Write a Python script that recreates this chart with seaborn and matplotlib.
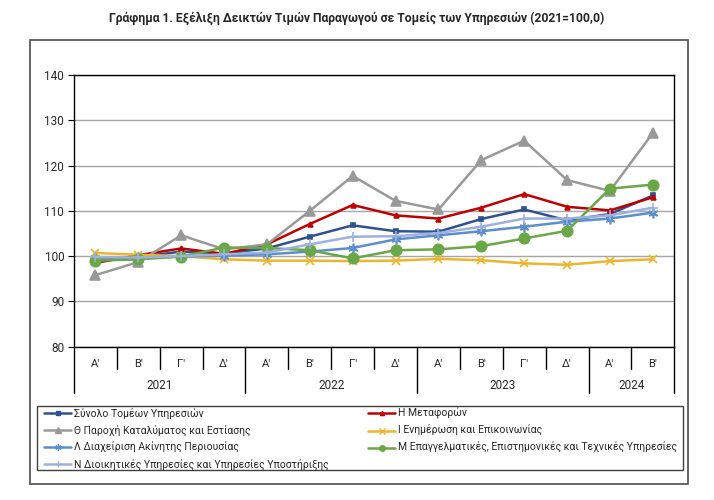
import matplotlib
matplotlib.use("Agg")
import matplotlib.pyplot as plt
import seaborn as sns
import pandas as pd
from matplotlib.patches import Rectangle
from matplotlib.lines import Line2D

# κατηγορίες άξονα x
quarters = ["Α'", "Β'", "Γ'", "Δ'"] * 3 + ["Α'", "Β'"]
years = ["2021", "2022", "2023", "2024"]
year_counts = [4, 4, 4, 2]

# δείκτες (2021=100,0)
synolo = [99.0, 99.8, 101.0, 100.6, 101.7, 104.3, 106.8, 105.5, 105.4, 108.2, 110.3, 107.9, 109.3, 113.4]
metafores = [98.5, 100.2, 101.7, 100.5, 102.6, 107.1, 111.3, 109.0, 108.3, 110.7, 113.7, 110.9, 110.1, 113.0]
katalymata = [95.8, 98.7, 104.6, 101.5, 102.6, 110.0, 117.7, 112.2, 110.3, 121.2, 125.5, 116.8, 114.4, 127.2]
enimerosi = [100.7, 100.3, 100.0, 99.3, 99.0, 99.0, 98.9, 99.0, 99.4, 99.1, 98.4, 98.1, 98.9, 99.3]
akiniti = [99.5, 99.6, 99.9, 100.1, 100.4, 101.0, 101.8, 103.7, 104.6, 105.5, 106.5, 107.6, 108.3, 109.6]
epaggelmatikes = [99.0, 99.3, 99.9, 101.9, 101.8, 101.3, 99.5, 101.3, 101.5, 102.2, 103.9, 105.6, 114.9, 115.8]
dioikitikes = [99.8, 99.7, 100.0, 100.4, 100.8, 102.6, 104.3, 104.4, 105.1, 106.5, 108.3, 108.3, 109.0, 110.7]

names = [
    "Σύνολο Τομέων Υπηρεσιών",
    "Η Μεταφορών",
    "Θ Παροχή Καταλύματος και Εστίασης",
    "Ι Ενημέρωση και Επικοινωνίας",
    "Λ Διαχείριση Ακίνητης Περιουσίας",
    "Μ Επαγγελματικές, Επιστημονικές και Τεχνικές Υπηρεσίες",
    "Ν Διοικητικές Υπηρεσίες και Υπηρεσίες Υποστήριξης",
]
series = [synolo, metafores, katalymata, enimerosi, akiniti, epaggelmatikes, dioikitikes]

colors = ["#2F528F", "#C00000", "#999999", "#EDB52C", "#5B8FCB", "#6AA746", "#9DB0E0"]
markers = ["s", "^", "^", "x", (6, 2, 0), "o", "+"]
msizes = [3.5, 3.5, 7.5, 6, 7, 7.5, 7]
leg_msizes = [3, 3, 4, 4.5, 4.5, 4, 5]

sns.set_style("white")
plt.rcParams["font.family"] = ["Roboto", "DejaVu Sans"]

fig = plt.figure(figsize=(7.14, 5.0), dpi=100)
ax = fig.add_axes([0.1036, 0.3066, 0.8408, 0.5434])

x = list(range(len(quarters)))
rows = []
for name, vals in zip(names, series):
    for xi, v in zip(x, vals):
        rows.append({"pos": xi, "value": v, "series": name})
df = pd.DataFrame(rows)

for i, name in enumerate(names):
    sub = df[df["series"] == name]
    sns.lineplot(data=sub, x="pos", y="value", ax=ax, color=colors[i],
                 marker=markers[i], markersize=msizes[i], linewidth=1.8,
                 markeredgecolor=colors[i], markeredgewidth=1.2,
                 legend=False, zorder=3 + i)

ax.set_xlim(-0.5, len(quarters) - 0.5)
ax.set_ylim(80, 140)
ax.set_yticks(range(80, 141, 10))
ax.yaxis.grid(True, color="#A6A6A6", linewidth=1)
ax.set_axisbelow(True)
ax.tick_params(axis="y", labelsize=8.5, length=4, color="black", direction="out", left=True, pad=3)
ax.set_xlabel("")
ax.set_ylabel("")
for s in ax.spines.values():
    s.set_color("black")
    s.set_linewidth(1)

# πολυεπίπεδος άξονας κατηγοριών
ax.set_xticks(x)
ax.set_xticklabels(quarters, fontsize=8)
ax.tick_params(axis="x", length=0, pad=9)
trans = ax.get_xaxis_transform()
year_edges = [-0.5]
for c in year_counts:
    year_edges.append(year_edges[-1] + c)
for b in range(len(quarters) + 1):
    edge = b - 0.5
    low = -0.169 if edge in year_edges else -0.082
    ax.plot([edge, edge], [0, low], transform=trans, clip_on=False, color="black", lw=1)
for yr, a, b in zip(years, year_edges[:-1], year_edges[1:]):
    ax.text((a + b) / 2, -0.141, yr, transform=trans, ha="center", va="center", fontsize=8.5)

# τίτλος
fig.text(0.5, 1 - 18 / 500, "Γράφημα 1. Εξέλιξη Δεικτών Τιμών Παραγωγού σε Τομείς των Υπηρεσιών (2021=100,0)",
         ha="center", va="center", fontsize=8.7, fontweight="bold")

# εξωτερικό πλαίσιο
fig.patches.append(Rectangle((30 / 714, 1 - 484 / 500), 658 / 714, 444 / 500, transform=fig.transFigure,
                             fill=False, edgecolor="#595959", linewidth=1.3))
# πλαίσιο υπομνήματος
fig.patches.append(Rectangle((36.7 / 714, 1 - 470 / 500), 646 / 714, 64.3 / 500, transform=fig.transFigure,
                             fill=False, edgecolor="#404040", linewidth=1))

handles = [Line2D([], [], color=colors[i], marker=markers[i], markersize=leg_msizes[i], lw=1.8,
                  markeredgecolor=colors[i], markeredgewidth=1) for i in range(len(names))]
col1 = [0, 2, 4, 6]
col2 = [1, 3, 5]
for idx, x0 in ((col1, 42 / 714), (col2, 366 / 714)):
    fig.legend([handles[i] for i in idx], [names[i] for i in idx], loc="upper left",
               bbox_to_anchor=(x0, 1 - 406 / 500), frameon=False, fontsize=7.5,
               handlelength=2.6, handletextpad=0.25, labelspacing=0.57, borderaxespad=0, borderpad=0.2)

fig.savefig("out.png", dpi=100)
